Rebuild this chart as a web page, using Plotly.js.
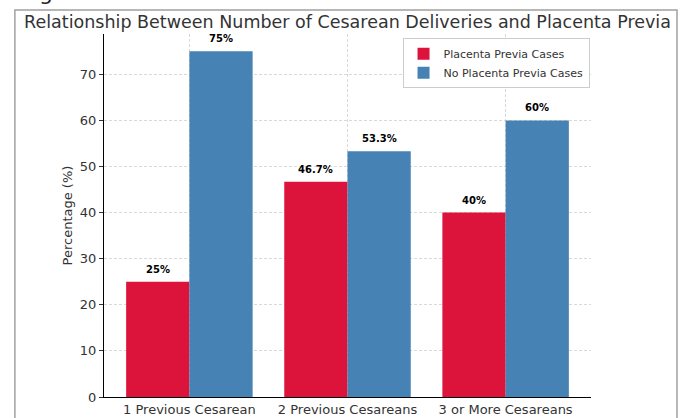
<!DOCTYPE html>
<html>
<head>
<meta charset="utf-8">
<script src="https://cdn.plot.ly/plotly-3.0.1.min.js"></script>
<style>html,body{margin:0;padding:0;background:#fff;}#chart{width:683px;height:418px;}</style>
</head>
<body>
<div id="chart"></div>
<script>
var categories = ["1 Previous Cesarean", "2 Previous Cesareans", "3 or More Cesareans"];
var previaValues = [25, 46.7, 40];
var noPreviaValues = [75, 53.3, 60];
var previaLabels = ["25%", "46.7%", "40%"];
var noPreviaLabels = ["75%", "53.3%", "60%"];
var seriesNames = ["Placenta Previa Cases", "No Placenta Previa Cases"];
var yTicks = [0, 10, 20, 30, 40, 50, 60, 70];

var xIdx = categories.map(function(c, i){ return i; });

var traces = [
  {type:'bar', name:seriesNames[0], x:xIdx, y:previaValues, marker:{color:'#DC143C'}, hoverinfo:'none'},
  {type:'bar', name:seriesNames[1], x:xIdx, y:noPreviaValues, marker:{color:'#4682B4'}, hoverinfo:'none'}
];

var annotations = [];
xIdx.forEach(function(i){
  annotations.push({x:i-0.2, y:previaValues[i], xref:'x', yref:'y', text:previaLabels[i], showarrow:false, yanchor:'bottom', yshift:5, font:{family:'DejaVu Sans', size:10, color:'#000', weight:'bold'}});
  annotations.push({x:i+0.2, y:noPreviaValues[i], xref:'x', yref:'y', text:noPreviaLabels[i], showarrow:false, yanchor:'bottom', yshift:5, font:{family:'DejaVu Sans', size:10, color:'#000', weight:'bold'}});
});
annotations.push({x:-0.137, y:1.075, xref:'paper', yref:'paper', text:'g', showarrow:false, xanchor:'left', yanchor:'bottom', font:{family:'DejaVu Sans', size:22, color:'#222'}});

var layout = {
  width:683, height:418,
  margin:{l:104, r:92, t:34, b:21},
  paper_bgcolor:'#fff', plot_bgcolor:'#fff',
  font:{family:'DejaVu Sans', color:'#333'},
  title:{text:'Relationship Between Number of Cesarean Deliveries and Placenta Previa', font:{family:'DejaVu Sans', size:17.5, color:'#333'}, x:0.5, xref:'paper', y:0.947, yanchor:'middle'},
  barmode:'group', bargap:0.2, bargroupgap:0,
  xaxis:{tickmode:'array', tickvals:xIdx, ticktext:categories, range:[-0.54, 2.54], showgrid:true, gridcolor:'#d0d0d0', griddash:'3px,2px', gridwidth:0.8, showline:true, linecolor:'#000', linewidth:1, ticks:'', tickfont:{size:13, color:'#333'}, zeroline:false, fixedrange:true},
  yaxis:{range:[0, 78.75], tickmode:'array', tickvals:yTicks, showgrid:true, gridcolor:'#d0d0d0', griddash:'3px,2px', gridwidth:0.8, showline:true, linecolor:'#000', linewidth:1, ticks:'outside', ticklen:4, tickcolor:'#333', tickfont:{size:13, color:'#333'}, zeroline:false, title:{text:'Percentage (%)', font:{size:13, color:'#333'}, standoff:4}, fixedrange:true},
  legend:{x:0.613, y:0.988, xanchor:'left', yanchor:'top', bgcolor:'rgba(255,255,255,0.9)', bordercolor:'#ccc', borderwidth:1, font:{size:11, color:'#333'}, tracegroupgap:0, itemwidth:30},
  annotations:annotations,
  shapes:[{type:'rect', xref:'paper', yref:'paper', x0:-0.183, x1:1.1766, y0:-0.2, y1:1.066, line:{color:'#a0a0a0', width:1.5}, fillcolor:'rgba(0,0,0,0)', layer:'below'}]
};

Plotly.newPlot('chart', traces, layout, {displayModeBar:false, staticPlot:true});
</script>
</body>
</html>
